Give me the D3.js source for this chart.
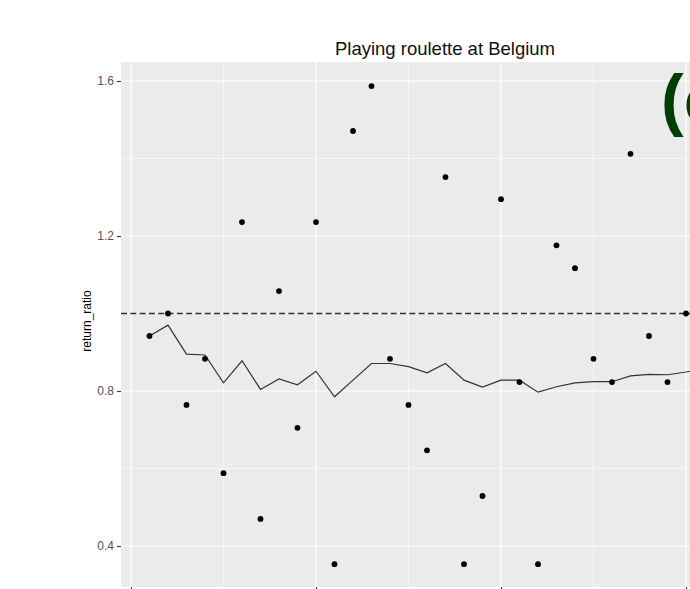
<!DOCTYPE html>
<html>
<head>
<meta charset="utf-8">
<script src="https://cdn.jsdelivr.net/npm/d3@7"></script>
<style>
  html, body { margin: 0; padding: 0; background: #ffffff; overflow: hidden; }
  svg { display: block; font-family: "Liberation Sans", Arial, sans-serif; }
</style>
</head>
<body>
<div id="chart"></div>
<script>
// Spin index (1..30)
const spins = d3.range(1, 31);

// Return ratio of each spin
const returnRatio = [
  0.942, 1.000, 0.764, 0.883, 0.588, 1.236, 0.470, 1.058, 0.705, 1.236,
  0.353, 1.471, 1.587, 0.883, 0.764, 0.647, 1.352, 0.353, 0.529, 1.295,
  0.823, 0.353, 1.176, 1.117, 0.883, 0.823, 1.412, 0.942, 0.823, 1.000
];

// Running return ratio (solid line); extends one step past the last spin
const runningRatio = [
  0.942, 0.970, 0.895, 0.893, 0.821, 0.878, 0.804, 0.831, 0.816, 0.851,
  0.785, 0.828, 0.871, 0.871, 0.863, 0.847, 0.871, 0.828, 0.810, 0.828,
  0.828, 0.797, 0.811, 0.821, 0.824, 0.824, 0.839, 0.843, 0.842, 0.849,
  0.858
];

const breakEven = 1.0;
const yTicks = [0.4, 0.8, 1.2, 1.6];
const yMinor = [0.2, 0.6, 1.0, 1.4];
const xTicks = [0, 10, 20, 30, 40];
const xMinor = [5, 15, 25, 35];

const W = 780, H = 620;
const panel = { left: 121, top: 62, right: 780, bottom: 587 };

const svg = d3.select("#chart").append("svg")
  .attr("width", W).attr("height", H);

const x = d3.scaleLinear().domain([0, 30]).range([131, 686]);
const y = d3.scaleLinear().domain([0.4, 1.6]).range([546, 81]);

// panel background
svg.append("rect")
  .attr("x", panel.left).attr("y", panel.top)
  .attr("width", panel.right - panel.left)
  .attr("height", panel.bottom - panel.top)
  .attr("fill", "#ebebeb");

const grid = svg.append("g");
grid.selectAll("line.ymin").data(yMinor).join("line")
  .attr("x1", panel.left).attr("x2", panel.right)
  .attr("y1", d => y(d)).attr("y2", d => y(d))
  .attr("stroke", "#fff").attr("stroke-width", 0.6);
grid.selectAll("line.xmin").data(xMinor).join("line")
  .attr("y1", panel.top).attr("y2", panel.bottom)
  .attr("x1", d => x(d)).attr("x2", d => x(d))
  .attr("stroke", "#fff").attr("stroke-width", 0.6);
grid.selectAll("line.ymaj").data(yTicks).join("line")
  .attr("x1", panel.left).attr("x2", panel.right)
  .attr("y1", d => y(d)).attr("y2", d => y(d))
  .attr("stroke", "#fff").attr("stroke-width", 1.2);
grid.selectAll("line.xmaj").data(xTicks).join("line")
  .attr("y1", panel.top).attr("y2", panel.bottom)
  .attr("x1", d => x(d)).attr("x2", d => x(d))
  .attr("stroke", "#fff").attr("stroke-width", 1.2);

// break-even reference line
svg.append("line")
  .attr("x1", panel.left).attr("x2", panel.right)
  .attr("y1", y(breakEven)).attr("y2", y(breakEven))
  .attr("stroke", "#333").attr("stroke-width", 1.4)
  .attr("stroke-dasharray", "6,3.3");

// running ratio
const line = d3.line()
  .x((d, i) => x(i + 1))
  .y(d => y(d));
svg.append("path")
  .datum(runningRatio)
  .attr("d", line)
  .attr("fill", "none")
  .attr("stroke", "#333")
  .attr("stroke-width", 1.2);

// per-spin points
svg.append("g").selectAll("circle")
  .data(spins)
  .join("circle")
  .attr("cx", d => x(d))
  .attr("cy", (d, i) => y(returnRatio[i]))
  .attr("r", 2.9)
  .attr("fill", "#000");

// y axis
const yAxis = svg.append("g")
  .attr("transform", `translate(${panel.left},0)`)
  .call(d3.axisLeft(y).tickValues(yTicks).tickFormat(d3.format(".1f")).tickSize(4).tickPadding(3));
yAxis.select(".domain").remove();
yAxis.selectAll(".tick line").attr("stroke", "#333").attr("stroke-width", 1.1);
yAxis.selectAll(".tick text")
  .attr("fill", "#555")
  .style("font-size", "12px")
  .style("font-family", "Liberation Sans, Arial, sans-serif");

// x axis: tick marks only at the bottom edge of the panel
const xAxis = svg.append("g")
  .attr("transform", `translate(0,${panel.bottom})`)
  .call(d3.axisBottom(x).tickValues(xTicks).tickSize(4).tickFormat(""));
xAxis.select(".domain").remove();
xAxis.selectAll(".tick line").attr("stroke", "#333").attr("stroke-width", 1.1);

// y axis title
svg.append("text")
  .attr("transform", `translate(91,321) rotate(-90)`)
  .attr("text-anchor", "middle")
  .style("font-size", "12px")
  .attr("fill", "#000")
  .text("return_ratio");

// title
svg.append("text")
  .attr("x", 445).attr("y", 55)
  .attr("text-anchor", "middle")
  .style("font-size", "18.5px")
  .attr("fill", "#111")
  .text("Playing roulette at Belgium");

// panel tag
svg.append("text")
  .attr("x", 661).attr("y", 123)
  .style("font-size", "68px")
  .style("font-weight", "bold")
  .attr("fill", "#003f00")
  .text("(c)");
</script>
</body>
</html>
